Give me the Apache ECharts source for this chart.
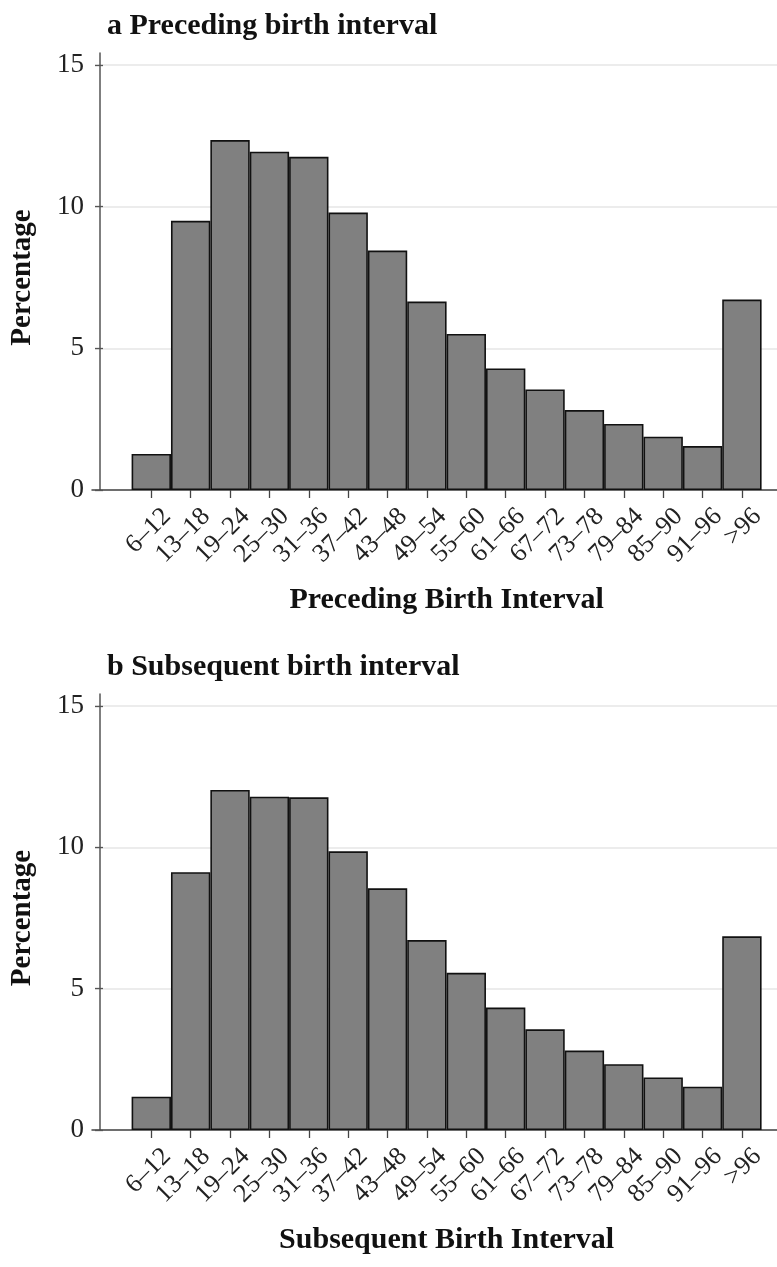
<!DOCTYPE html>
<html>
<head>
<meta charset="utf-8">
<script src="https://cdn.jsdelivr.net/npm/echarts@6/dist/echarts.min.js"></script>
<style>
html,body{margin:0;padding:0;background:#fff;}
#chart{width:777px;height:1267px;}
</style>
</head>
<body>
<div id="chart"></div>
<script>
// ---- data ----
var categories = ['6–12','13–18','19–24','25–30','31–36','37–42','43–48','49–54','55–60','61–66','67–72','73–78','79–84','85–90','91–96','>96'];
var precedingValues = [1.27, 9.5, 12.35, 11.94, 11.76, 9.79, 8.45, 6.65, 5.51, 4.29, 3.55, 2.82, 2.33, 1.88, 1.55, 6.72];
var subsequentValues = [1.18, 9.12, 12.03, 11.79, 11.77, 9.86, 8.55, 6.72, 5.56, 4.33, 3.56, 2.81, 2.33, 1.86, 1.53, 6.85];
var yTicks = [0, 5, 10, 15];
var panelTitles = ['a Preceding birth interval', 'b Subsequent birth interval'];
var axisTitles = ['Preceding Birth Interval', 'Subsequent Birth Interval'];
var yTitle = 'Percentage';

// ---- layout ----
var FONT = 'Liberation Serif';
var panels = [
  {top: 65, height: 425, titleTop: 6},
  {top: 706, height: 424, titleTop: 647}
];
var seriesData = [precedingValues, subsequentValues];
var yMin = yTicks[0], yMax = yTicks[yTicks.length - 1];
var EXT = 12; // axis line extends a bit above the top tick

var grids = [], xAxes = [], yAxes = [], series = [], titles = [];
panels.forEach(function (p, i) {
  var g0 = grids.length;
  // 0: axis-line frame (y axis line extends above top tick)
  grids.push({left: 92, right: 0, top: p.top - EXT, height: p.height + EXT});
  // 1: labels / gridlines
  grids.push({left: 92, right: 0, top: p.top, height: p.height});
  // 2: bars
  grids.push({left: 131.6, width: 630, top: p.top, height: p.height});

  var extMax = yMax * (p.height + EXT) / p.height;
  xAxes.push({
    gridIndex: g0, type: 'value', min: 0, max: 1,
    axisLine: {show: true, lineStyle: {color: '#444', width: 1.5}},
    axisTick: {show: false}, axisLabel: {show: false}, splitLine: {show: false}
  });
  yAxes.push({
    gridIndex: g0, type: 'value', min: yMin, max: extMax, offset: -8,
    axisLine: {show: true, lineStyle: {color: '#555', width: 1.5}},
    axisTick: {show: false}, axisLabel: {show: false}, splitLine: {show: false}
  });

  xAxes.push({
    gridIndex: g0 + 1, type: 'value', min: 0, max: 1, show: false
  });
  yAxes.push({
    gridIndex: g0 + 1, type: 'value', min: yMin, max: yMax, interval: 5, offset: -8,
    axisLine: {show: false},
    axisTick: {show: true, length: 8, lineStyle: {color: '#555', width: 1.3}},
    axisLabel: {margin: 19, fontFamily: FONT, fontSize: 27, color: '#222'},
    splitLine: {show: true, lineStyle: {color: '#e6e6e6', width: 1.5}},
    name: yTitle, nameLocation: 'middle', nameRotate: 90, nameGap: 66,
    nameTextStyle: {fontFamily: FONT, fontSize: 29, fontWeight: 'bold', color: '#111'}
  });

  xAxes.push({
    gridIndex: g0 + 2, type: 'category', data: categories,
    boundaryGap: true,
    axisLine: {show: false},
    axisTick: {show: true, alignWithLabel: true, length: 8, lineStyle: {color: '#444', width: 1.3}},
    axisLabel: {rotate: 45, margin: 38, padding: [0, -22, 0, 0], fontFamily: FONT, fontSize: 26, color: '#222', interval: 0},
    name: axisTitles[i], nameLocation: 'middle', nameGap: 95,
    nameTextStyle: {fontFamily: FONT, fontSize: 30, fontWeight: 'bold', color: '#111'}
  });
  yAxes.push({
    gridIndex: g0 + 2, type: 'value', min: yMin, max: yMax,
    show: false, splitLine: {show: false}
  });
  series.push({
    type: 'bar', xAxisIndex: g0 + 2, yAxisIndex: g0 + 2,
    data: seriesData[i], barCategoryGap: '0%',
    itemStyle: {color: '#808080', borderColor: '#111', borderWidth: 1.6},
    silent: true, animation: false
  });
  titles.push({
    text: panelTitles[i], left: 102, top: p.titleTop,
    textStyle: {fontFamily: FONT, fontSize: 30, fontWeight: 'bold', color: '#111'}
  });
});

var chart = echarts.init(document.getElementById('chart'), null, {renderer: 'canvas'});
chart.setOption({
  animation: false,
  backgroundColor: '#fff',
  title: titles,
  grid: grids,
  xAxis: xAxes,
  yAxis: yAxes,
  series: series
});
</script>
</body>
</html>
